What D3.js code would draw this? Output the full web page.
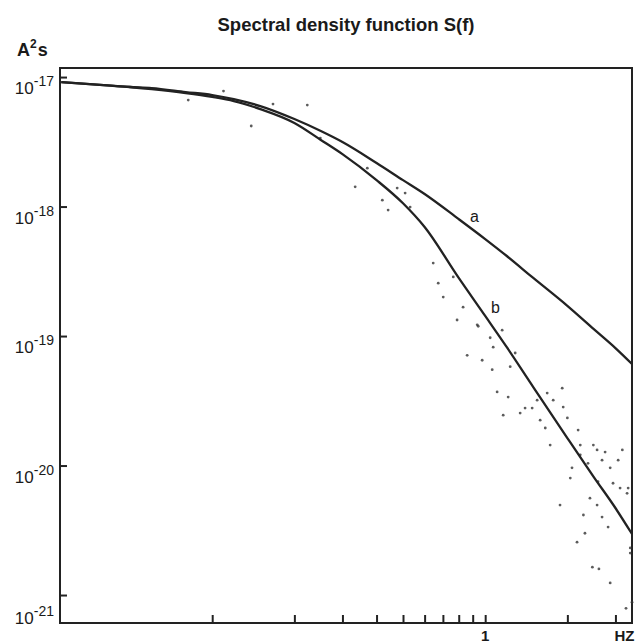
<!DOCTYPE html>
<html>
<head>
<meta charset="utf-8">
<script src="https://cdn.jsdelivr.net/npm/d3@7"></script>
<style>
  body { margin: 0; background: #fff; }
  text { font-family: "Liberation Sans", Arial, sans-serif; fill: #1a1a1a; }
</style>
</head>
<body>
<div id="chart"></div>
<script>
// frequencies (Hz) at which the two fitted curves were read
var freq = [0.028, 0.04, 0.05, 0.06, 0.08, 0.1, 0.12, 0.15, 0.2, 0.25, 0.3, 0.4,
            0.5, 0.6, 0.8, 1, 1.2, 1.5, 2, 2.5, 3, 3.45];
// curve a (A^2 s)
var curveA = [9.14e-18, 8.67e-18, 8.38e-18, 8.22e-18, 7.66e-18, 7.26e-18, 6.76e-18, 5.97e-18,
              4.74e-18, 3.83e-18, 3.15e-18, 2.17e-18, 1.60e-18, 1.25e-18, 8.0e-19, 5.61e-19,
              4.15e-19, 2.81e-19, 1.71e-19, 1.13e-19, 8.07e-20, 6.08e-20];
// curve b (A^2 s)
var curveB = [9.14e-18, 8.67e-18, 8.38e-18, 8.07e-18, 7.52e-18, 7.02e-18, 6.53e-18, 5.66e-18,
              4.42e-18, 3.27e-18, 2.54e-18, 1.60e-18, 1.06e-18, 6.95e-19, 2.81e-19, 1.43e-19,
              8.2e-20, 4.04e-20, 1.63e-20, 8.15e-21, 4.7e-21, 2.96e-21];

// measured spectrum points
var dotFreq = [0.0817, 0.110, 0.139, 0.167, 0.223, 0.249, 0.370, 0.334, 0.476, 0.509, 0.420, 0.441,
               0.531, 0.645, 0.673, 0.702, 0.764, 0.830, 0.789, 0.943, 1.043, 1.154, 1.070, 0.859,
               0.975, 1.061, 1.235, 1.288, 1.106, 1.214, 1.40, 1.343, 1.164, 1.486, 1.55, 1.687,
               1.915, 1.775, 1.931, 1.66, 1.59, 1.73, 2.0, 2.19, 2.23, 2.49, 2.57, 2.75, 3.18,
               2.23, 2.68, 2.87, 3.07, 2.38, 2.08, 2.05, 2.59, 2.94, 3.31, 3.34, 3.12, 1.88, 2.42,
               2.57, 2.29, 2.68, 2.82, 2.32, 2.17, 3.40, 3.40, 2.47, 2.61, 2.87, 3.45, 3.28, 0.935];
var dotS = [6.64e-18, 7.80e-18, 4.19e-18, 6.19e-18, 6.08e-18, 3.38e-18, 1.98e-18, 1.42e-18, 1.39e-18,
            1.27e-18, 1.12e-18, 9.4e-19, 9.9e-19, 3.66e-19, 2.56e-19, 2.0e-19, 2.86e-19, 1.67e-19,
            1.33e-19, 1.19e-19, 9.7e-20, 1.11e-19, 8.2e-20, 7.1e-20, 6.5e-20, 5.5e-20, 5.8e-20,
            7.4e-20, 3.7e-20, 3.38e-20, 2.78e-20, 2.54e-20, 2.45e-20, 2.78e-20, 3.2e-20, 3.63e-20,
            3.96e-20, 3.2e-20, 2.83e-20, 1.95e-20, 2.24e-20, 1.44e-20, 2.33e-20, 1.88e-20, 1.44e-20,
            1.44e-20, 1.32e-20, 1.27e-20, 1.32e-20, 1.21e-20, 1.10e-20, 9.6e-21, 1.10e-20, 1.04e-20,
            9.6e-21, 8.0e-21, 7.5e-21, 7.3e-21, 6.1e-21, 6.7e-21, 6.7e-21, 4.95e-21, 5.6e-21,
            4.95e-21, 4.15e-21, 4.0e-21, 3.35e-21, 3.0e-21, 2.56e-21, 2.31e-21, 2.11e-21, 1.64e-21,
            1.59e-21, 1.24e-21, 8.8e-22, 7.9e-22, 1.22e-19];

// axis ticks
var yTicks = [1e-17, 1e-18, 1e-19, 1e-20, 1e-21];
var yExp = ["-17", "-18", "-19", "-20", "-21"];
var xTicks = [0.1, 0.2, 0.3, 0.4, 0.5, 0.6, 0.7, 0.8, 0.9, 1, 2, 3];

var margin = {top: 68, right: 3, bottom: 20, left: 60},
    width = 635 - margin.left - margin.right,
    height = 643 - margin.top - margin.bottom;

var svg = d3.select("#chart")
    .append("svg")
    .attr("width", 635)
    .attr("height", 643);

svg.append("text")
    .attr("x", 346)
    .attr("y", 31)
    .attr("text-anchor", "middle")
    .style("font-size", "18.5px")
    .style("font-weight", "bold")
    .text("Spectral density function S(f)");

var unit = svg.append("text")
    .attr("x", 17)
    .attr("y", 56)
    .style("font-size", "18px")
    .style("font-weight", "bold");
unit.append("tspan").text("A");
unit.append("tspan").attr("dy", -8).style("font-size", "12px").text("2");
unit.append("tspan").attr("dy", 8).attr("dx", 1).text("s");

var g = svg.append("g")
    .attr("transform", "translate(" + margin.left + "," + margin.top + ")");

var x = d3.scaleLog().domain([0.0277, 3.45]).range([0, width]);
var y = d3.scaleLog().domain([Math.pow(10, -21.216), Math.pow(10, -16.93)]).range([height, 0]);

// frame
g.append("rect")
    .attr("width", width)
    .attr("height", height)
    .style("fill", "none")
    .style("stroke", "#222")
    .style("stroke-width", 2);

// inward ticks
g.append("g")
    .call(d3.axisRight(y).tickValues(yTicks).tickSize(7).tickFormat(""))
    .call(function (a) { a.select(".domain").remove(); })
    .selectAll("line").style("stroke", "#222").style("stroke-width", 2);

g.append("g")
    .attr("transform", "translate(0," + height + ")")
    .call(d3.axisTop(x).tickValues(xTicks).tickSize(8).tickFormat(""))
    .call(function (a) { a.select(".domain").remove(); })
    .selectAll("line").style("stroke", "#222").style("stroke-width", 2);

// y labels 10^n
yTicks.forEach(function (v, i) {
    var base = (i === yTicks.length - 1) ? height + 1 : y(v) + 17;
    var t = g.append("text")
        .attr("x", -6)
        .attr("y", base)
        .attr("text-anchor", "end")
        .style("font-size", "17px");
    t.append("tspan").text("10");
    t.append("tspan").attr("dy", -8).style("font-size", "14px").text(yExp[i]);
});

g.append("text")
    .attr("x", x(1))
    .attr("y", height + 18)
    .attr("text-anchor", "middle")
    .style("font-size", "15px")
    .style("font-weight", "bold")
    .text("1");

g.append("text")
    .attr("x", x(3) + 9)
    .attr("y", height + 18)
    .attr("text-anchor", "middle")
    .style("font-size", "15px")
    .style("font-weight", "bold")
    .text("HZ");

// measured points
g.selectAll("circle")
    .data(dotFreq)
    .enter().append("circle")
    .attr("cx", function (d) { return x(d); })
    .attr("cy", function (d, i) { return y(dotS[i]); })
    .attr("r", 1.4)
    .style("fill", "#333")
    .style("opacity", 0.8);

var line = d3.line()
    .x(function (d) { return x(d[0]); })
    .y(function (d) { return y(d[1]); })
    .curve(d3.curveMonotoneX);

[curveA, curveB].forEach(function (c) {
    g.append("path")
        .datum(freq.map(function (f, i) { return [f, c[i]]; }))
        .attr("d", line)
        .style("fill", "none")
        .style("stroke", "#222")
        .style("stroke-width", 2.3);
});

// curve names
g.append("text").attr("x", x(0.88)).attr("y", y(7.6e-19)).style("font-size", "16px").text("a");
g.append("text").attr("x", x(1.05)).attr("y", y(1.5e-19)).style("font-size", "16px").text("b");
</script>
</body>
</html>
